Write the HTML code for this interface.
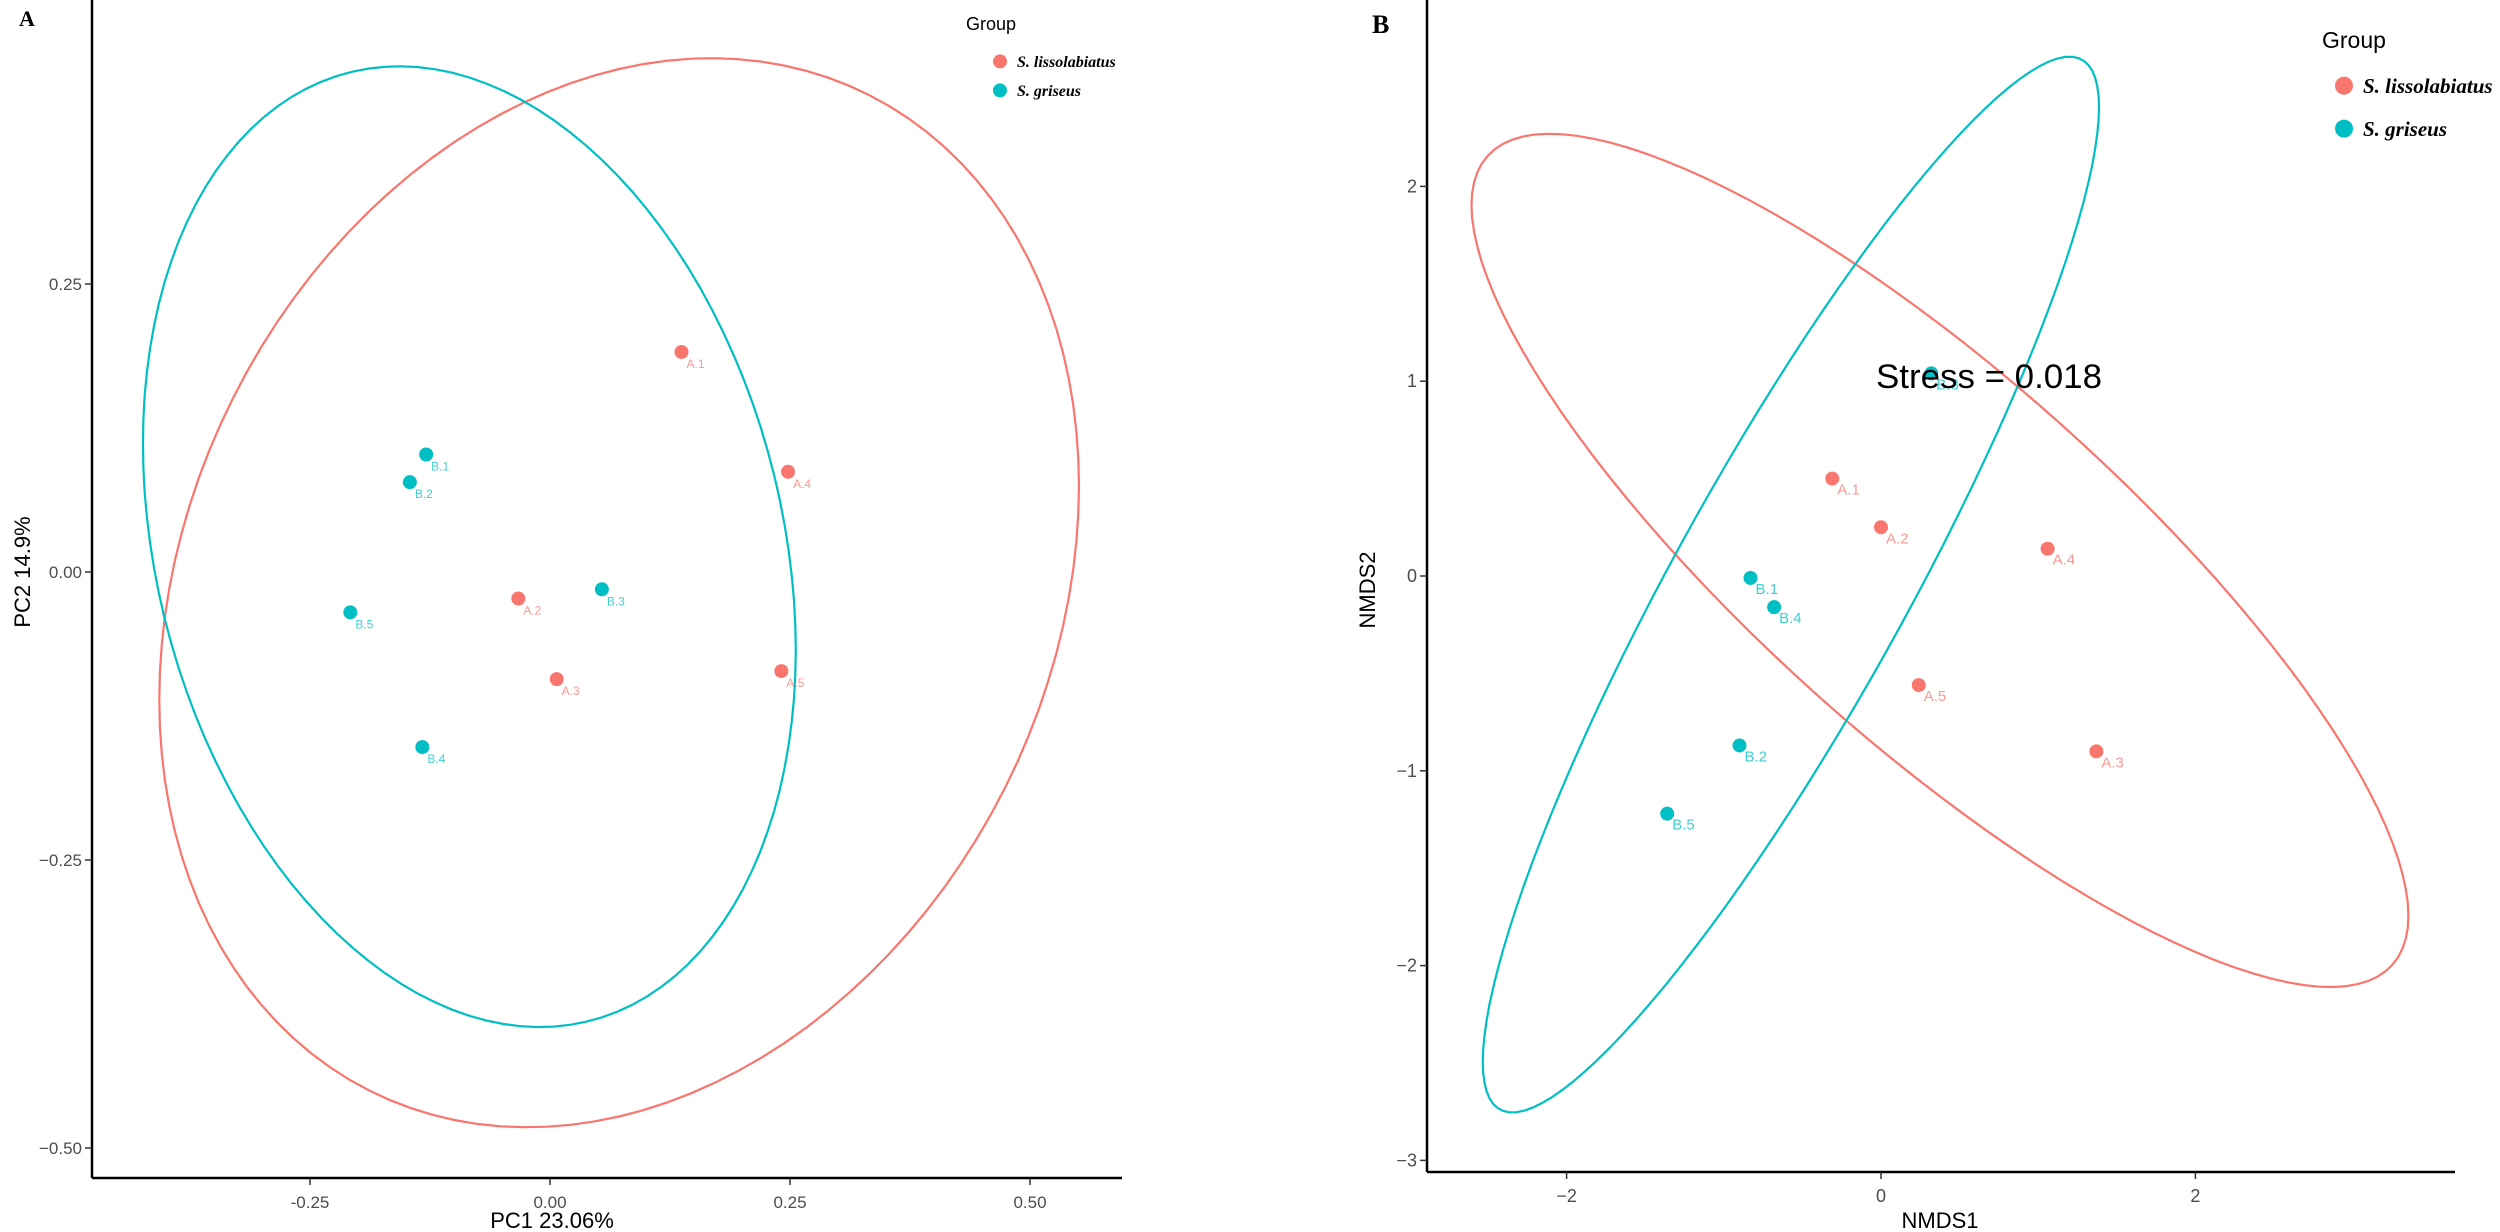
<!DOCTYPE html>
<html><head><meta charset="utf-8"><style>
html,body{margin:0;padding:0;background:#fff}
svg{display:block;font-family:"Liberation Sans",sans-serif}
</style></head><body>
<svg id="chart" width="2500" height="1232" viewBox="0 0 2500 1232" xmlns="http://www.w3.org/2000/svg"></svg>
<script>
// ---- Panel A (PCoA) data ----
const aLabels = ["A.1","A.2","A.3","A.4","A.5","B.1","B.2","B.3","B.4","B.5"];
const aGroup  = [0,0,0,0,0,1,1,1,1,1];
const aPC1    = [0.137,-0.033,0.007,0.248,0.241,-0.129,-0.146,0.054,-0.133,-0.208];
const aPC2    = [0.191,-0.023,-0.093,0.087,-0.086,0.102,0.078,-0.015,-0.152,-0.035];
const aXTicks = [-0.25,0,0.25,0.5];
const aXTickLabels = ["-0.25","0.00","0.25","0.50"];
const aYTicks = [0.25,0,-0.25,-0.5];
const aYTickLabels = ["0.25","0.00","\u22120.25","\u22120.50"];
// ellipse params per group: centre x, centre y, half-extent x, half-extent y, correlation
const aEllCx = [0.072,-0.084];
const aEllCy = [-0.018,0.022];
const aEllHx = [0.479,0.34];
const aEllHy = [0.464,0.417];
const aEllRho = [0.2,-0.215];
// ---- Panel B (NMDS) data ----
const bLabels = ["A.1","A.2","A.3","A.4","A.5","B.1","B.2","B.3","B.4","B.5"];
const bGroup  = [0,0,0,0,0,1,1,1,1,1];
const bNMDS1  = [-0.31,0.0,1.37,1.06,0.24,-0.83,-0.90,0.32,-0.68,-1.36];
const bNMDS2  = [0.50,0.25,-0.90,0.14,-0.56,-0.01,-0.87,1.04,-0.16,-1.22];
const bXTicks = [-2,0,2];
const bXTickLabels = ["\u22122","0","2"];
const bYTicks = [2,1,0,-1,-2,-3];
const bYTickLabels = ["2","1","0","\u22121","\u22122","\u22123"];
const bEllCx = [0.375,-0.573];
const bEllCy = [0.08,-0.044];
const bEllHx = [2.98,1.96];
const bEllHy = [2.19,2.71];
const bEllRho = [-0.833,0.904];
const groupNames = ["S. lissolabiatus","S. griseus"];
const colors = ["#F8766D","#00BFC4"];

const NS="http://www.w3.org/2000/svg";
const svg=document.getElementById('chart');
function mk(tag,attrs,parent,text){const e=document.createElementNS(NS,tag);for(const k in attrs)e.setAttribute(k,attrs[k]);if(text!==undefined)e.textContent=text;(parent||svg).appendChild(e);return e;}

function panel(cfg){
  const g=mk('g',{});
  
  
  const X=v=>cfg.x0+cfg.sx*v, Y=v=>cfg.y0-cfg.sy*v;
  for(let k=0;k<cfg.ecx.length;k++){
    const cx=X(cfg.ecx[k]),cy=Y(cfg.ecy[k]),hx=cfg.sx*cfg.ehx[k],hy=cfg.sy*cfg.ehy[k],r=-cfg.erho[k];
    let d='';
    for(let i=0;i<=120;i++){const t=i/120*2*Math.PI;
      const px=cx+hx*Math.cos(t),py=cy+hy*(r*Math.cos(t)+Math.sqrt(1-r*r)*Math.sin(t));
      d+=(i?'L':'M')+px.toFixed(1)+' '+py.toFixed(1);}
    const p=mk('path',{d:d+'Z',fill:'none',stroke:colors[k],'stroke-width':2.2},g);
    
    
  }
  const ax=mk('line',{x1:cfg.axL,y1:cfg.axB,x2:cfg.axR,y2:cfg.axB,stroke:'#000','stroke-width':2.5},g);
  
  
  const ay=mk('line',{x1:cfg.axL,y1:cfg.axT,x2:cfg.axL,y2:cfg.axB,stroke:'#000','stroke-width':2.5},g);
  
  
  cfg.xt.forEach((v,i)=>{
    mk('line',{x1:X(v),x2:X(v),y1:cfg.axB,y2:cfg.axB+7,stroke:'#333','stroke-width':1.5},g);
    const t=mk('text',{x:X(v),y:cfg.axB+30,'text-anchor':'middle','font-size':cfg.tfs,fill:'#4d4d4d'},g,cfg.xtl[i]);
    
    
  });
  cfg.yt.forEach((v,i)=>{
    mk('line',{x1:cfg.axL-7,x2:cfg.axL,y1:Y(v),y2:Y(v),stroke:'#333','stroke-width':1.5},g);
    const t=mk('text',{x:cfg.axL-10,y:Y(v)+6,'text-anchor':'end','font-size':cfg.tfs,fill:'#4d4d4d'},g,cfg.ytl[i]);
    
    
  });
  cfg.px.forEach((v,i)=>{
    const c=colors[cfg.grp[i]];
    const pt=mk('circle',{cx:X(v),cy:Y(cfg.py[i]),r:7,fill:c},g);
    
    
    const lt=mk('text',{x:X(v)+5,y:Y(cfg.py[i])+16,'font-size':cfg.lfs,fill:c,'fill-opacity':0.75},g,cfg.lab[i]);
    
    
  });
  const xtit=mk('text',{x:(cfg.xtX),y:cfg.xtY,'text-anchor':'middle','font-size':22,fill:'#000'},g,cfg.xTitle);
  
  
  const ytit=mk('text',{x:0,y:0,'text-anchor':'middle','font-size':22,fill:'#000',transform:`translate(${cfg.ytX},${cfg.ytY}) rotate(-90)`},g,cfg.yTitle);
  
  
  const pl=mk('text',{x:cfg.plX,y:cfg.plY,'font-family':'Liberation Serif, serif','font-weight':'bold','font-size':cfg.plFs},g,cfg.letter);
  
  
  const lg=mk('g',{},g);
  
  
  mk('text',{x:cfg.lgX,y:cfg.lgY,'font-size':cfg.lgFs+2,fill:'#000'},lg,'Group');
  groupNames.forEach((n,k)=>{
    const yy=cfg.lgY+cfg.lgOff+cfg.lgGap*(k+1);
    const e=mk('g',{},lg);
    
    
    mk('circle',{cx:cfg.lgX+cfg.lgDot,cy:yy-cfg.lgFs*0.35,r:cfg.lgR,fill:colors[k]},e);
    mk('text',{x:cfg.lgX+cfg.lgDot+cfg.lgR+10,y:yy,'font-family':'Liberation Serif, serif','font-weight':'bold','font-style':'italic','font-size':cfg.lgFs,fill:'#000'},e,n);
  });
  return {g,X,Y};
}

panel({name:'panel-a-pcoa',x0:550,sx:960,y0:572,sy:1152,axL:92,axR:1122,axT:0,axB:1178,
  xt:aXTicks,xtl:aXTickLabels,yt:aYTicks,ytl:aYTickLabels,tfs:17,lfs:12,
  px:aPC1,py:aPC2,grp:aGroup,lab:aLabels,
  ecx:aEllCx,ecy:aEllCy,ehx:aEllHx,ehy:aEllHy,erho:aEllRho,
  xTitle:'PC1 23.06%',xtX:552,xtY:1228,yTitle:'PC2 14.9%',ytX:30,ytY:572,
  letter:'A',plX:19,plY:26,plFs:22,
  lgX:966,lgY:30,lgOff:8,lgGap:29,lgFs:16,lgDot:34,lgR:7});

const pb=panel({name:'panel-b-nmds',x0:1881,sx:157.2,y0:576,sy:194.8,axL:1427,axR:2455,axT:0,axB:1172,
  xt:bXTicks,xtl:bXTickLabels,yt:bYTicks,ytl:bYTickLabels,tfs:18,lfs:15,
  px:bNMDS1,py:bNMDS2,grp:bGroup,lab:bLabels,
  ecx:bEllCx,ecy:bEllCy,ehx:bEllHx,ehy:bEllHy,erho:bEllRho,
  xTitle:'NMDS1',xtX:1940,xtY:1228,yTitle:'NMDS2',ytX:1375,ytY:590,
  letter:'B',plX:1372,plY:33,plFs:26,
  lgX:2322,lgY:48,lgOff:2,lgGap:43,lgFs:21,lgDot:22,lgR:9});
const st=mk('text',{x:1876,y:388,'font-size':34,fill:'#000',textLength:226,lengthAdjust:'spacingAndGlyphs'},pb.g,'Stress = 0.018');


</script>
</body></html>
